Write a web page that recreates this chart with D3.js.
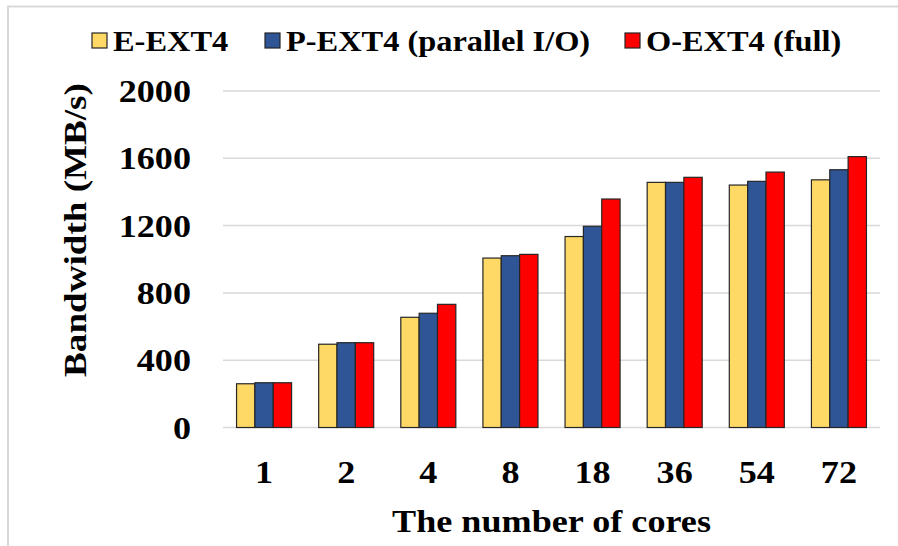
<!DOCTYPE html>
<html>
<head>
<meta charset="utf-8">
<script src="https://cdn.jsdelivr.net/npm/d3@7"></script>
<style>
  html, body { margin: 0; padding: 0; background: #fff; }
  svg { display: block; }
  text { font-family: "Liberation Serif", "Times New Roman", serif; font-weight: bold; fill: #000; }
</style>
</head>
<body>
<script>
// ---- data ----
const categories = ["1", "2", "4", "8", "18", "36", "54", "72"];
const seriesNames = ["E-EXT4", "P-EXT4 (parallel I/O)", "O-EXT4 (full)"];
const eExt4 = [260, 495, 655, 1007, 1135, 1457, 1441, 1472];
const pExt4 = [266, 504, 679, 1021, 1196, 1457, 1463, 1532];
const oExt4 = [266, 504, 732, 1029, 1358, 1487, 1518, 1610];
const yTicks = [0, 400, 800, 1200, 1600, 2000];
const xTitle = "The number of cores";
const yTitle = "Bandwidth (MB/s)";

const seriesValues = [eExt4, pExt4, oExt4];
const colors = ["#FFD966", "#2F5597", "#FF0000"];

const W = 898, H = 546;
const plot = { left: 223, right: 880, top: 91, bottom: 427.5 };

const svg = d3.select("body").append("svg").attr("width", W).attr("height", H);

// outer frame (partial, as in screenshot)
svg.append("line").attr("x1", 7).attr("x2", W).attr("y1", 6.5).attr("y2", 6.5)
  .attr("stroke", "#d9d9d9").attr("stroke-width", 2);
svg.append("line").attr("x1", 8).attr("x2", 8).attr("y1", 6).attr("y2", H)
  .attr("stroke", "#d9d9d9").attr("stroke-width", 2);

const x = d3.scaleBand().domain(categories).range([plot.left, plot.right]).paddingInner(0.33).paddingOuter(0.165);
const x1 = d3.scaleBand().domain(seriesNames).range([0, x.bandwidth()]);
const y = d3.scaleLinear().domain([0, 2000]).range([plot.bottom, plot.top]);

// gridlines
svg.append("g").selectAll("line").data(yTicks).join("line")
  .attr("x1", plot.left).attr("x2", plot.right)
  .attr("y1", d => y(d)).attr("y2", d => y(d))
  .attr("stroke", "#d9d9d9").attr("stroke-width", 1.5);

// bars
const rows = categories.map((c, i) => ({ c, vals: seriesNames.map((s, j) => ({ s, j, v: seriesValues[j][i] })) }));
const groups = svg.append("g").selectAll("g").data(rows).join("g")
  .attr("transform", d => `translate(${x(d.c)},0)`);
groups.selectAll("rect").data(d => d.vals).join("rect")
  .attr("x", d => x1(d.s))
  .attr("width", x1.bandwidth())
  .attr("y", d => y(d.v))
  .attr("height", d => y(0) - y(d.v))
  .attr("fill", d => colors[d.j])
  .attr("stroke", "#262626")
  .attr("stroke-width", 1.2);

// y axis labels
const yAxis = svg.append("g").attr("transform", "translate(191,0)")
  .call(d3.axisLeft(y).tickValues(yTicks).tickSize(0).tickPadding(0).tickFormat(d3.format("d")));
yAxis.select(".domain").remove();
yAxis.selectAll("text")
  .attr("x", 0).attr("dy", "0.33em")
  .attr("text-anchor", "end")
  .style("font-size", "32px")
  .style("font-family", "'Liberation Serif', 'Times New Roman', serif")
  .style("font-weight", "bold")
  .attr("fill", "#000")
  .attr("transform", "scale(1.13,1)");

// x axis labels
const xAxis = svg.append("g").attr("transform", `translate(0,${plot.bottom})`)
  .call(d3.axisBottom(x).tickSize(0).tickPadding(0));
xAxis.select(".domain").remove();
xAxis.selectAll("text")
  .attr("y", 56).attr("dy", 0)
  .attr("text-anchor", "middle")
  .style("font-size", "32px")
  .style("font-family", "'Liberation Serif', 'Times New Roman', serif")
  .style("font-weight", "bold")
  .attr("fill", "#000")
  .attr("transform", "scale(1.13,1)");

// axis titles
svg.append("text")
  .attr("transform", "translate(551.5,532) scale(1.13,1)")
  .attr("text-anchor", "middle")
  .style("font-size", "32px")
  .text(xTitle);

svg.append("text")
  .attr("transform", "translate(86,230) rotate(-90) scale(1.16,1)")
  .attr("text-anchor", "middle")
  .style("font-size", "32px")
  .text(yTitle);

// legend
const legendX = [92, 265, 625];
const leg = svg.append("g").selectAll("g").data(seriesNames).join("g")
  .attr("transform", (d, i) => `translate(${legendX[i]},33)`);
leg.append("rect").attr("width", 15).attr("height", 15)
  .attr("fill", (d, i) => colors[i]).attr("stroke", "#262626").attr("stroke-width", 1.2);
leg.append("text")
  .attr("transform", "translate(21,17.5) scale(1.08,1)")
  .style("font-size", "30px")
  .text(d => d);
</script>
</body>
</html>
